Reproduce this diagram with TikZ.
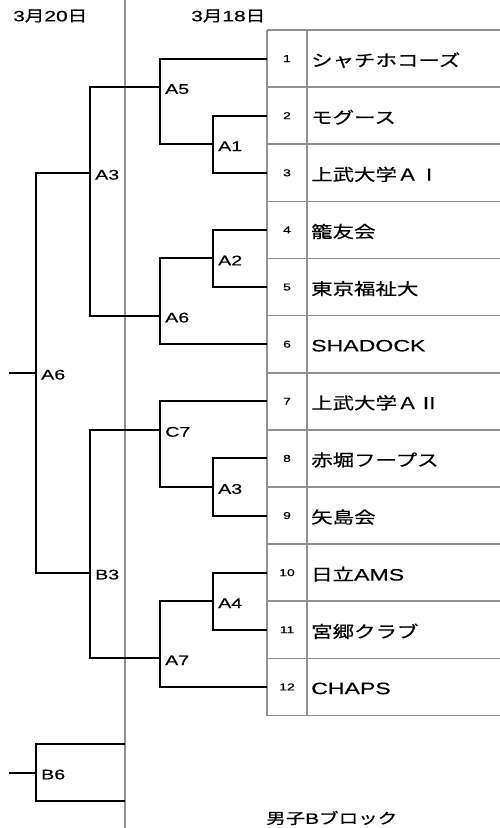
\documentclass[tikz,border=0pt]{standalone}
\usepackage{fontspec}
\setmainfont{Liberation Sans}[FakeStretch=1.4,FakeBold=0.5]
\newfontfamily\jp{Noto Sans CJK JP}[FakeStretch=1.3,FakeBold=0.5]
\usetikzlibrary{calc}
\definecolor{gridgray}{RGB}{145,145,145}

\tikzset{
  rule/.style={draw=gridgray, line width=1.6pt},
  bracket/.style={draw=black, line width=2pt},
  match/.style={anchor=west, inner sep=0pt, xshift=5pt, yshift=-2pt, font=\fontsize{14}{14}\selectfont},
  seed/.style={inner sep=0pt, minimum width=40pt, minimum height=57pt, font=\fontsize{10}{10}\selectfont},
  team/.style={anchor=west, inner sep=0pt, font=\fontsize{16.5}{16.5}\selectfont},
  day/.style={anchor=west, inner sep=0pt, font=\fontsize{15}{15}\selectfont},
}

\begin{document}
\begin{tikzpicture}[x=1pt,y=-1pt]
    \useasboundingbox (0,0) rectangle (500,828);

    % day line and table
    \draw[rule] (125,0) -- (125,828);
    \foreach \k in {0,1,...,12}{% one rule per row border
      \draw[rule] (267,30+57.12*\k) -- (500,30+57.12*\k);
    }
    \draw[rule] (267,30) -- (267,716);
    \draw[rule] (307,30) -- (307,716);

    \node[day] (d20) at (13,16) {3{\jp 月}20{\jp 日}};
    \node[day] (d18) at (191,16) {3{\jp 月}18{\jp 日}};

    \foreach \i/\name in {1/{\jp シャチホコーズ},2/{\jp モグース},3/{\jp 上武大学ＡⅠ},
        4/{\jp 籠友会},5/{\jp 東京福祉大},6/SHADOCK,7/{\jp 上武大学ＡⅡ},
        8/{\jp 赤堀フープス},9/{\jp 矢島会},10/{{\jp 日立}AMS},11/{\jp 宮郷クラブ},12/CHAPS}{%
      \node[seed] (n\i) at (287,30+57.12*\i-28.56) {\i};
      \node[team] (t\i) at (311,30+57.12*\i-27) {\name};
    }

    % junctions, on half rows
    \coordinate (a1)  at (213,30+28.56*4);
    \coordinate (a2)  at (213,30+28.56*8);
    \coordinate (a3b) at (213,30+28.56*16);
    \coordinate (a4)  at (213,30+28.56*20);
    \coordinate (a5)  at (160,30+28.56*2);
    \coordinate (a6a) at (160,30+28.56*10);
    \coordinate (c7)  at (160,30+28.56*14);
    \coordinate (a7)  at (160,30+28.56*22);
    \coordinate (a3a) at (90,30+28.56*5);
    \coordinate (b3)  at (90,30+28.56*19);
    \coordinate (a6b) at (36,30+28.56*12);
    \coordinate (b6)  at (36,30+28.56*26);
    \coordinate (out1) at (9,30+28.56*12);
    \coordinate (out2) at (9,30+28.56*26);
    \coordinate (b6t) at (125,30+28.56*25);
    \coordinate (b6b) at (125,30+28.56*27);

    \draw[bracket] (n2.west) -| (a1) |- (n3.west);
    \draw[bracket] (n4.west) -| (a2) |- (n5.west);
    \draw[bracket] (n8.west) -| (a3b) |- (n9.west);
    \draw[bracket] (n10.west) -| (a4) |- (n11.west);
    \draw[bracket] (n1.west) -| (a5) |- (a1);
    \draw[bracket] (a2) -| (a6a) |- (n6.west);
    \draw[bracket] (n7.west) -| (c7) |- (a3b);
    \draw[bracket] (a4) -| (a7) |- (n12.west);
    \draw[bracket] (a5) -| (a3a) |- (a6a);
    \draw[bracket] (c7) -| (b3) |- (a7);
    \draw[bracket] (a3a) -| (a6b) |- (b3);
    \draw[bracket] (out1) -- (a6b);
    \draw[bracket] (b6t) -| (b6) |- (b6b);
    \draw[bracket] (out2) -- (b6);

    \node[match] (la1)  at (a1)  {A1};
    \node[match] (la2)  at (a2)  {A2};
    \node[match] (la3b) at (a3b) {A3};
    \node[match] (la4)  at (a4)  {A4};
    \node[match] (la5)  at (a5)  {A5};
    \node[match] (la6a) at (a6a) {A6};
    \node[match] (lc7)  at (c7)  {C7};
    \node[match] (la7)  at (a7)  {A7};
    \node[match] (la3a) at (a3a) {A3};
    \node[match] (lb3)  at (b3)  {B3};
    \node[match] (la6b) at (a6b) {A6};
    \node[match] (lb6)  at (b6)  {B6};

    \node[day] (block) at (266,818) {{\jp 男子}B{\jp ブロック}};
\end{tikzpicture}
\end{document}
